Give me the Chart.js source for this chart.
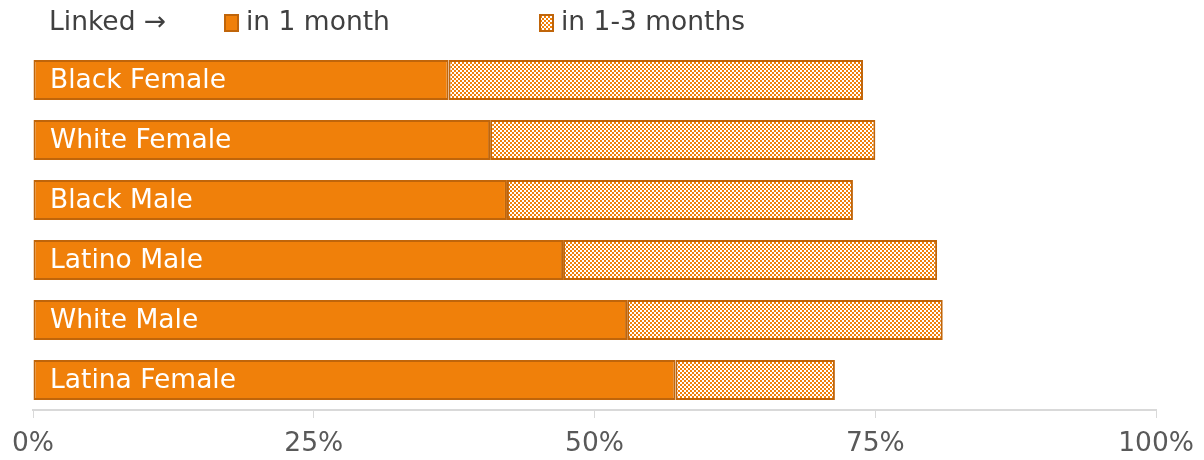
<!DOCTYPE html>
<html>
<head>
<meta charset="utf-8">
<script src="https://cdn.jsdelivr.net/npm/chart.js@4"></script>
<style>
  html, body { margin: 0; padding: 0; background: #fff; }
  #wrap { width: 1204px; height: 460px; }
</style>
</head>
<body>
<div id="wrap"><canvas id="chart" width="1204" height="460"></canvas></div>
<script>
// data
const groups = ['Black Female', 'White Female', 'Black Male', 'Latino Male', 'White Male', 'Latina Female'];
const inOneMonth = [37.0, 40.7, 42.2, 47.2, 52.9, 57.2];
const inOneToThree = [36.9, 34.3, 30.8, 33.3, 28.1, 14.2];
const tickLabels = ['0%', '25%', '50%', '75%', '100%'];
const legendTitle = 'Linked \u2192';
const seriesNames = ['in 1 month', 'in 1-3 months'];

const orange = '#F0800A';
const edge = '#C0650A';
const font = '"DejaVu Sans", Verdana, sans-serif';
const textSize = 26.5;

// checkerboard fill for the second series
function checker() {
    const c = document.createElement('canvas');
    c.width = 4; c.height = 4;
    const g = c.getContext('2d');
    g.fillStyle = '#fff';
    g.fillRect(0, 0, 4, 4);
    g.fillStyle = orange;
    g.fillRect(0, 0, 2, 2);
    g.fillRect(2, 2, 2, 2);
    return g.createPattern(c, 'repeat');
}
const pattern = checker();

// category names written inside the bars
const barLabels = {
    id: 'barLabels',
    afterDatasetsDraw(chart) {
        const ctx = chart.ctx;
        const meta = chart.getDatasetMeta(0);
        ctx.save();
        ctx.font = textSize + 'px ' + font;
        ctx.fillStyle = '#fff';
        ctx.textBaseline = 'middle';
        meta.data.forEach((bar, i) => {
            ctx.fillText(groups[i], chart.chartArea.left + 17, bar.y + 1);
        });
        ctx.restore();
    }
};

// legend row at the top
const topLegend = {
    id: 'topLegend',
    afterDraw(chart) {
        const ctx = chart.ctx;
        ctx.save();
        ctx.font = textSize + 'px ' + font;
        ctx.fillStyle = '#404040';
        ctx.textBaseline = 'middle';
        ctx.fillText(legendTitle, 49, 23);
        const xs = [225, 540];
        const fills = [orange, pattern];
        seriesNames.forEach((name, i) => {
            ctx.fillStyle = fills[i];
            ctx.fillRect(xs[i], 15, 13, 16);
            ctx.strokeStyle = edge;
            ctx.lineWidth = 2;
            ctx.strokeRect(xs[i], 15, 13, 16);
            ctx.fillStyle = '#404040';
            ctx.fillText(name, xs[i] + 21, 23);
        });
        ctx.restore();
    }
};

new Chart(document.getElementById('chart'), {
    type: 'bar',
    data: {
        labels: groups,
        datasets: [
            {
                label: seriesNames[0],
                data: inOneMonth,
                backgroundColor: orange,
                borderColor: edge,
                borderWidth: 2,
                borderSkipped: false
            },
            {
                label: seriesNames[1],
                data: inOneToThree,
                backgroundColor: pattern,
                borderColor: edge,
                borderWidth: 2,
                borderSkipped: false
            }
        ]
    },
    options: {
        indexAxis: 'y',
        responsive: false,
        animation: false,
        layout: { padding: { top: 50, left: 33, right: 47, bottom: 0 } },
        datasets: { bar: { categoryPercentage: 0.67, barPercentage: 1 } },
        scales: {
            x: {
                stacked: true,
                min: 0,
                max: 100,
                afterFit: (scale) => { scale.height = 50; },
                border: { color: '#d9d9d9', width: 2 },
                grid: { drawOnChartArea: false, color: '#d9d9d9', tickLength: 8, lineWidth: 1 },
                ticks: {
                    stepSize: 25,
                    padding: 10,
                    color: '#595959',
                    font: { size: textSize, family: font },
                    callback: (v, i) => tickLabels[i]
                }
            },
            y: {
                stacked: true,
                display: false
            }
        },
        plugins: {
            legend: { display: false },
            tooltip: { enabled: false }
        }
    },
    plugins: [barLabels, topLegend]
});
</script>
</body>
</html>
